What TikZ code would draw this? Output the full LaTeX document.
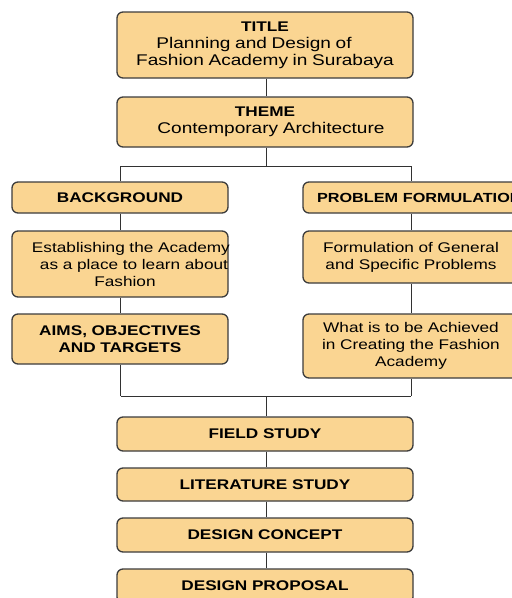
\documentclass[tikz,border=0pt]{standalone}
\usepackage{fontspec}
\setmainfont{Liberation Sans}[FakeStretch=1.23]
\definecolor{boxfill}{RGB}{250,213,146}
\definecolor{boxline}{RGB}{60,60,60}
\definecolor{wireline}{RGB}{50,50,50}
\newcommand{\bigline}{\fontsize{15.5}{17}\selectfont}
\tikzset{
  flowbox/.style={draw=boxline, line width=1.3pt, fill=boxfill, rounded corners=6pt,
    inner sep=0pt, align=center, font=\fontsize{14}{17}\selectfont},
  wide/.style={flowbox, text width=296pt, minimum width=296pt},
  side/.style={flowbox, text width=216pt, minimum width=216pt},
  wire/.style={draw=wireline, line width=1pt}
}
\begin{document}
\begin{tikzpicture}[x=1pt,y=-1pt]
\useasboundingbox (0,0) rectangle (512,598);
\clip (0,0) rectangle (512,598);
\fill[white] (0,0) rectangle (512,598);

% junction coordinates
\coordinate (topM) at (266,166);
\coordinate (topL) at (120.5,166);
\coordinate (topR) at (411,166);
\coordinate (botL) at (120.5,396);
\coordinate (botR) at (411,396);
\coordinate (botM) at (266,396);

% boxes
\node[wide, minimum height=66pt] (title) at (265,45)
  {{\bfseries TITLE}\\\bigline\mbox{Planning and Design of\hspace*{22pt}}\\\bigline\mbox{Fashion Academy in Surabaya}};
\node[wide, minimum height=50pt] (theme) at (265,122)
  {{\bfseries THEME}\\\bigline\mbox{\hspace*{12pt}Contemporary Architecture}};

\node[side, minimum height=31pt] (background) at (120,197.5) {\bfseries BACKGROUND};
\node[side, minimum height=66pt] (establish) at (120,264)
  {\mbox{\hspace*{20pt}Establishing the Academy}\\\mbox{\hspace*{28pt}as a place to learn about}\\\mbox{\hspace*{10pt}Fashion}};
\node[side, minimum height=50pt] (aims) at (120,339)
  {\bfseries AIMS, OBJECTIVES\\\bfseries AND TARGETS};

\node[side, minimum height=31pt, align=left] (problem) at (411,197.5)
  {\mbox{\hspace*{14pt}\fontsize{13.2}{17}\selectfont\bfseries PROBLEM FORMULATION}};
\node[side, minimum height=52pt] (formulation) at (411,257)
  {Formulation of General\\and Specific Problems};
\node[side, minimum height=64pt] (achieve) at (411,346)
  {What is to be Achieved\\in Creating the Fashion\\Academy};

\node[wide, minimum height=34pt] (field) at (265,434) {\bfseries FIELD STUDY};
\node[wide, minimum height=33pt] (literature) at (265,484.5) {\bfseries LITERATURE STUDY};
\node[wide, minimum height=34pt] (concept) at (265,535) {\bfseries DESIGN CONCEPT};
\node[wide, minimum height=34pt] (proposal) at (265,586) {\bfseries DESIGN PROPOSAL};

% connectors
\draw[wire] (title.south -| topM) -- (theme.north -| topM);
\draw[wire] (theme.south -| topM) -- (topM);
\draw[wire] (topL) -- (topR);
\draw[wire] (topL) -- (background.north -| topL);
\draw[wire] (background.south -| topL) -- (establish.north -| topL);
\draw[wire] (establish.south -| topL) -- (aims.north -| topL);
\draw[wire] (aims.south -| botL) -- (botL);
\draw[wire] (topR) -- (problem.north);
\draw[wire] (problem.south) -- (formulation.north);
\draw[wire] (formulation.south) -- (achieve.north);
\draw[wire] (achieve.south) -- (botR);
\draw[wire] (botL) -- (botR);
\draw[wire] (botM) -- (field.north -| botM);
\draw[wire] (field.south -| botM) -- (literature.north -| botM);
\draw[wire] (literature.south -| botM) -- (concept.north -| botM);
\draw[wire] (concept.south -| botM) -- (proposal.north -| botM);
\end{tikzpicture}
\end{document}
